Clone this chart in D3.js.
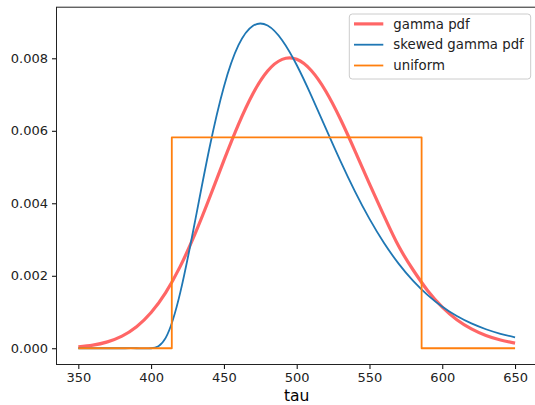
<!DOCTYPE html>
<html>
<head>
<meta charset="utf-8">
<script src="https://cdn.jsdelivr.net/npm/d3@7"></script>
<style>
  body { margin: 0; background: #fff; overflow: hidden; }
  svg { display: block; font-family: 'DejaVu Sans', sans-serif; }
</style>
</head>
<body>
<svg width="535" height="405"></svg>
<script>
// values
var tau = [350, 360, 370, 380, 390, 400, 410, 420, 430, 440, 450, 460, 470, 480, 490,
  500, 510, 520, 530, 540, 550, 560, 570, 580, 590, 600, 610, 620, 630, 640, 650];

var gammaPdf = [0.0000394, 0.0000867, 0.000177, 0.000335, 0.000594, 0.000985, 0.001536,
  0.002259, 0.003141, 0.004139, 0.005182, 0.006178, 0.007030, 0.007649, 0.007971,
  0.007972, 0.007663, 0.007091, 0.006325, 0.005447, 0.004534, 0.003653, 0.002819,
  0.002159, 0.001587, 0.001134, 0.000788, 0.000534, 0.000352, 0.000227, 0.000142];

var skewedPdf = [0, 0, 0, 0, 0, 0, 0.000286, 0.001534, 0.003470, 0.005513, 0.007218,
  0.008361, 0.008899, 0.008904, 0.008498, 0.007815, 0.006972, 0.006068, 0.005171,
  0.004329, 0.003569, 0.002904, 0.002335, 0.001858, 0.001465, 0.001145, 0.000889,
  0.000685, 0.000525, 0.000400, 0.000303];

var uniformX = [350, 414.2, 414.2, 585.8, 585.8, 650];
var uniformY = [0, 0, 0.00582, 0.00582, 0, 0];

var xTicks = [350, 400, 450, 500, 550, 600, 650];
var yTicks = [0, 0.002, 0.004, 0.006, 0.008];

var series = [
  { label: 'gamma pdf', xs: tau, ys: gammaPdf, color: 'red', width: 3.2, opacity: 0.6 },
  { label: 'skewed gamma pdf', xs: tau, ys: skewedPdf, color: '#1f77b4', width: 1.8, opacity: 1 },
  { label: 'uniform', xs: uniformX, ys: uniformY, color: '#ff7f0e', width: 1.8, opacity: 1 }
];

const svg = d3.select('svg');
const plotLeft = 56.5, plotRight = 536.9, plotTop = 7.2, plotBottom = 364.5;

// matplotlib style 5% padding around the data
var xExt = [350, 650];
var yMax = d3.max([d3.max(gammaPdf), d3.max(skewedPdf), 0.008962]);
var xPad = (xExt[1] - xExt[0]) * 0.05;
var yPad = yMax * 0.05;

var x = d3.scaleLinear().domain([xExt[0] - xPad, xExt[1] + xPad]).range([plotLeft, plotRight]);
var y = d3.scaleLinear().domain([-yPad, yMax + yPad]).range([plotBottom, plotTop]);

// lines
series.forEach(function (s) {
  var pts = s.xs.map((v, i) => [v, s.ys[i]]);
  var line = d3.line()
    .x((d) => x(d[0]))
    .y((d) => y(d[1]))
    .curve(s.label === 'uniform' ? d3.curveLinear : d3.curveNatural);
  svg.append('path')
    .datum(pts)
    .attr('fill', 'none')
    .attr('stroke', s.color)
    .attr('stroke-width', s.width)
    .attr('stroke-opacity', s.opacity)
    .attr('stroke-linejoin', 'round')
    .attr('d', line);
});

// axes
var xAxis = d3.axisBottom(x).tickValues(xTicks).tickSize(4.5).tickPadding(4).tickFormat(d3.format('d'));
var yAxis = d3.axisLeft(y).tickValues(yTicks).tickSize(4.5).tickPadding(4).tickFormat(d3.format('.3f'));

var gx = svg.append('g').attr('transform', 'translate(0,' + plotBottom + ')').call(xAxis);
var gy = svg.append('g').attr('transform', 'translate(' + plotLeft + ',0)').call(yAxis);
[gx, gy].forEach(function (g) {
  g.select('.domain').remove();
  g.selectAll('.tick line').attr('stroke', '#000').attr('stroke-width', 1);
  g.selectAll('.tick text').attr('fill', '#222').attr('font-size', '13px')
    .attr('font-family', "'DejaVu Sans', sans-serif");
});

// spines
svg.append('rect')
  .attr('x', plotLeft).attr('y', plotTop)
  .attr('width', plotRight - plotLeft).attr('height', plotBottom - plotTop)
  .attr('fill', 'none').attr('stroke', '#222').attr('stroke-width', 1);

// x label
svg.append('text')
  .attr('x', (plotLeft + plotRight) / 2)
  .attr('y', 401)
  .attr('text-anchor', 'middle')
  .attr('font-size', '15.5px')
  .attr('fill', '#000')
  .text('tau');

// legend
var lg = svg.append('g');
lg.append('rect')
  .attr('x', 349.3).attr('y', 14)
  .attr('width', 181.4).attr('height', 65)
  .attr('rx', 3)
  .attr('fill', '#fff').attr('fill-opacity', 0.8)
  .attr('stroke', '#ccc').attr('stroke-width', 1);

series.forEach(function (s, i) {
  var cy = 23.9 + i * 20.8;
  lg.append('line')
    .attr('x1', 354).attr('x2', 383.3)
    .attr('y1', cy).attr('y2', cy)
    .attr('stroke', s.color)
    .attr('stroke-width', s.width)
    .attr('stroke-opacity', s.opacity);
  lg.append('text')
    .attr('x', 393.3).attr('y', cy)
    .attr('dy', '0.35em')
    .attr('font-size', '13.3px')
    .attr('fill', '#222')
    .text(s.label);
});
</script>
</body>
</html>
